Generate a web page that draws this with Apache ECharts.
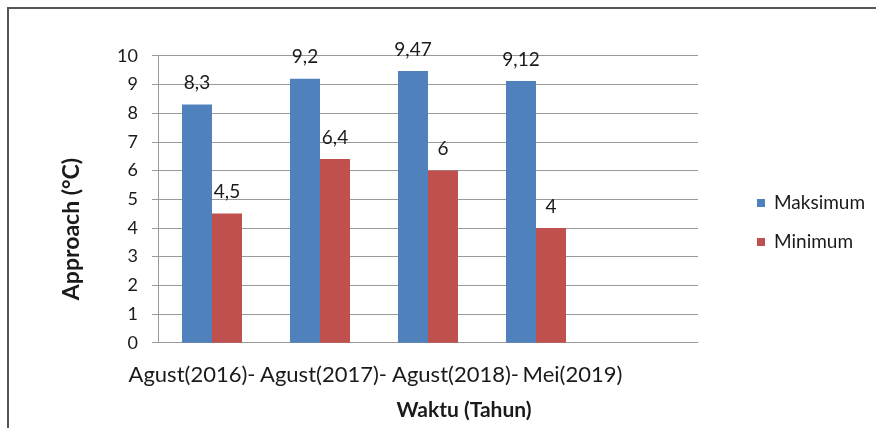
<!DOCTYPE html>
<html>
<head>
	<meta charset="UTF-8">
	<title>Approach</title>
	<script type="text/javascript" src="https://cdn.jsdelivr.net/npm/echarts@6/dist/echarts.min.js"></script>
	<style>
		html, body { margin:0; padding:0; background:#fff; }
		#chart_box { width:876px; height:428px; }
	</style>
</head>
<body>
<div id="chart_box"></div>
<script>
	// data
	var categories = ['Agust(2016)-', 'Agust(2017)-', 'Agust(2018)-', 'Mei(2019)', ''];
	var maksimum = [8.3, 9.2, 9.47, 9.12];
	var minimum = [4.5, 6.4, 6, 4];
	var yTicks = [0, 10, 1];   // min, max, interval

	// shift of each x label from its category centre (px)
	var labelShift = [-20, 3.5, 27.5, 36.5, 0];

	var catData = categories.map(function (c, i) {
		var d = labelShift[i];
		return {
			value: c,
			textStyle: { padding: d > 0 ? [0, 0, 0, 2 * d] : [0, -2 * d, 0, 0] }
		};
	});

	function comma(p) { return String(p.value).replace('.', ','); }

	var myChart = echarts.init(document.getElementById('chart_box'));
	var option = {
		animation: false,
		textStyle: { fontFamily: 'Lato' },
		color: ['#4F81BD', '#C0504D'],
		grid: { left: 158, right: 178, top: 55.7, bottom: 85.3 },
		legend: {
			orient: 'vertical',
			left: 752,
			top: 187,
			itemWidth: 8,
			itemHeight: 8,
			itemGap: 17,
			icon: 'rect',
			textStyle: { fontSize: 19, color: '#1a1a1a', lineHeight: 22, padding: [0, 0, 0, 4] },
			data: ['Maksimum', 'Minimum']
		},
		xAxis: {
			type: 'category',
			data: catData,
			axisLine: { lineStyle: { color: '#9a9a9a' } },
			axisTick: { show: false },
			axisLabel: { interval: 0, margin: 21, fontSize: 22, color: '#1a1a1a' },
			name: 'Waktu (Tahun)',
			nameLocation: 'middle',
			nameGap: 57,
			nameTextStyle: { fontSize: 21, fontWeight: 'bold', color: '#1a1a1a', padding: [0, 0, 0, 72] }
		},
		yAxis: {
			type: 'value',
			min: yTicks[0],
			max: yTicks[1],
			interval: yTicks[2],
			axisLine: { show: true, lineStyle: { color: '#9a9a9a' } },
			axisTick: { show: true, length: 6, lineStyle: { color: '#9a9a9a' } },
			axisLabel: { margin: 20, fontSize: 18, color: '#1a1a1a' },
			splitLine: { lineStyle: { color: '#9a9a9a' } }
		},
		graphic: [
			{
				type: 'rect',
				shape: { x: 8, y: 8, width: 900, height: 450 },
				style: { fill: 'none', stroke: '#555', lineWidth: 2 },
				silent: true
			},
			{
				type: 'text',
				x: 72, y: 229,
				rotation: Math.PI / 2,
				style: {
					text: 'Approach (°C)',
					fontFamily: 'Lato', fontSize: 23, fontWeight: 'bold', fill: '#1a1a1a',
					align: 'center', verticalAlign: 'middle'
				}
			}
		],
		series: [
			{
				name: 'Maksimum',
				type: 'bar',
				barWidth: 30,
				barGap: '0%',
				data: maksimum,
				label: { show: true, position: 'top', distance: 12, fontSize: 19, color: '#1a1a1a', formatter: comma }
			},
			{
				name: 'Minimum',
				type: 'bar',
				barWidth: 30,
				barGap: '0%',
				data: minimum,
				label: { show: true, position: 'top', distance: 12, fontSize: 19, color: '#1a1a1a', formatter: comma }
			}
		]
	};
	myChart.setOption(option);
</script>
</body>
</html>
